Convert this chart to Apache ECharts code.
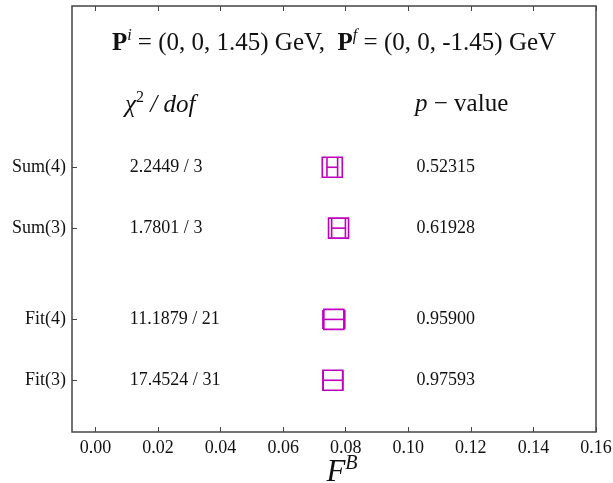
<!DOCTYPE html>
<html>
<head>
<meta charset="utf-8">
<script src="https://cdn.jsdelivr.net/npm/echarts@6/dist/echarts.min.js"></script>
<style>
  html, body { margin: 0; padding: 0; background: #fff; }
  #chart { width: 613px; height: 483px; }
</style>
</head>
<body>
<div id="chart"></div>
<script>
// rows, from top to bottom
const rowNames = ['Sum(4)', 'Sum(3)', 'Fit(4)', 'Fit(3)']
const rowPos = [4.5, 3.5, 2, 1]
const fbValues = [0.0757, 0.0777, 0.0762, 0.0759]
const fbErrors = [0.0017, 0.0022, 0.0035, 0.0031]
const chi2Labels = ['2.2449 / 3', '1.7801 / 3', '11.1879 / 21', '17.4524 / 31']
const pValues = ['0.52315', '0.61928', '0.95900', '0.97593']
const xTicks = [0, 0.02, 0.04, 0.06, 0.08, 0.10, 0.12, 0.14, 0.16]

const color = '#bf00bf'
const font = 'Liberation Serif'
const axisColor = '#444'

const chart = echarts.init(document.getElementById('chart'))

const pointData = rowNames.map((n, i) => [fbValues[i], rowPos[i], fbErrors[i]])
const textData = rowNames.map((n, i) => [0.011, rowPos[i], i])

chart.setOption({
  animation: false,
  grid: {
    left: 72, right: 17, top: 6, bottom: 51,
    outerBoundsMode: 'none',
    containLabel: false,
    show: true, borderColor: axisColor, borderWidth: 1.5
  },
  xAxis: [{
    type: 'value',
    min: -0.0075,
    max: 0.16,
    position: 'bottom',
    axisLine: { show: false, onZero: false },
    splitLine: { show: false },
    axisTick: { inside: true, length: 5, customValues: xTicks, lineStyle: { color: axisColor } },
    axisLabel: {
      customValues: xTicks,
      formatter: v => v.toFixed(2),
      fontFamily: font, fontSize: 18, color: '#111', margin: 7
    }
  }, {
    type: 'value',
    min: -0.0075,
    max: 0.16,
    position: 'top',
    axisLine: { show: false, onZero: false },
    splitLine: { show: false },
    axisTick: { inside: true, length: 5, customValues: xTicks, lineStyle: { color: axisColor } },
    axisLabel: { show: false }
  }],
  yAxis: {
    type: 'value',
    min: 0.15,
    max: 7.15,
    position: 'left',
    axisLine: { show: false, onZero: false },
    splitLine: { show: false },
    axisTick: { inside: true, length: 5, customValues: rowPos, lineStyle: { color: axisColor } },
    axisLabel: {
      customValues: rowPos,
      formatter: v => rowNames[rowPos.indexOf(v)],
      fontFamily: font, fontSize: 18, color: '#111', margin: 6
    }
  },
  graphic: [{
    type: 'text',
    x: 334, y: 42,
    style: {
      text: '{b|P}{sup|i}{n| = (0, 0, 1.45) GeV,  }{b|P}{sup|f}{n| = (0, 0, -1.45) GeV}',
      align: 'center', verticalAlign: 'middle',
      rich: {
        b: { fontFamily: font, fontWeight: 'bold', fontSize: 25, lineHeight: 28, fill: '#111', verticalAlign: 'bottom' },
        n: { fontFamily: font, fontSize: 25, lineHeight: 28, fill: '#111', verticalAlign: 'bottom' },
        sup: { fontFamily: font, fontStyle: 'italic', fontSize: 16, lineHeight: 28, fill: '#111', verticalAlign: 'top' }
      }
    }
  }, {
    type: 'text',
    x: 125, y: 104,
    style: {
      text: '{i|χ}{sup|2}{i| / dof}',
      align: 'left', verticalAlign: 'middle',
      rich: {
        i: { fontFamily: font, fontStyle: 'italic', fontSize: 25, lineHeight: 28, fill: '#111', verticalAlign: 'bottom' },
        sup: { fontFamily: font, fontSize: 16, lineHeight: 28, fill: '#111', verticalAlign: 'top' }
      }
    }
  }, {
    type: 'text',
    x: 415, y: 104,
    style: {
      text: '{i|p}{n| \u2212 value}',
      align: 'left', verticalAlign: 'middle',
      rich: {
        i: { fontFamily: font, fontStyle: 'italic', fontSize: 25, fill: '#111' },
        n: { fontFamily: font, fontSize: 25, fill: '#111' }
      }
    }
  }, {
    // x axis name F^B
    type: 'text',
    x: 342, y: 471,
    style: {
      text: '{f|F}{s|B}',
      align: 'center', verticalAlign: 'middle',
      rich: {
        f: { fontFamily: font, fontStyle: 'italic', fontSize: 31, lineHeight: 34, fill: '#111', verticalAlign: 'bottom' },
        s: { fontFamily: font, fontStyle: 'italic', fontSize: 20, lineHeight: 34, fill: '#111', verticalAlign: 'top' }
      }
    }
  }],
  series: [{
    type: 'custom',
    xAxisIndex: 0,
    data: pointData,
    renderItem(params, api) {
      const x = api.value(0)
      const y = api.value(1)
      const e = api.value(2)
      const c = api.coord([x, y])
      const l = api.coord([x - e, y])
      const r = api.coord([x + e, y])
      const h = 9.5
      const s = 10
      const st = { stroke: color, lineWidth: 1.6, fill: null }
      return {
        type: 'group',
        children: [
          { type: 'line', shape: { x1: l[0], y1: c[1], x2: r[0], y2: c[1] }, style: st },
          { type: 'line', shape: { x1: l[0], y1: c[1] - h, x2: l[0], y2: c[1] + h }, style: st },
          { type: 'line', shape: { x1: r[0], y1: c[1] - h, x2: r[0], y2: c[1] + h }, style: st },
          { type: 'rect', shape: { x: c[0] - s, y: c[1] - s, width: 2 * s, height: 2 * s }, style: st }
        ]
      }
    }
  }, {
    type: 'custom',
    xAxisIndex: 0,
    data: textData,
    renderItem(params, api) {
      const i = api.value(2)
      const a = api.coord([0.011, api.value(1)])
      const b = api.coord([0.1026, api.value(1)])
      const ts = { fontFamily: font, fontSize: 18, fill: '#111', align: 'left', verticalAlign: 'middle' }
      return {
        type: 'group',
        children: [
          { type: 'text', x: a[0], y: a[1], style: Object.assign({ text: chi2Labels[i] }, ts) },
          { type: 'text', x: b[0], y: b[1], style: Object.assign({ text: pValues[i] }, ts) }
        ]
      }
    }
  }]
})
</script>
</body>
</html>
